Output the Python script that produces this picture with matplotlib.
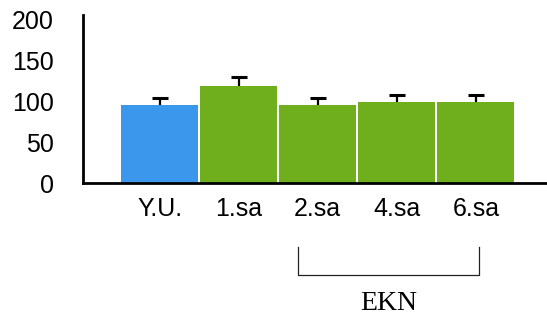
import matplotlib
matplotlib.use("Agg")
import matplotlib.pyplot as plt
import matplotlib.transforms as mtransforms
import numpy as np

# data
groups = ["Y.U.", "1.sa", "2.sa", "4.sa", "6.sa"]
means = [95, 118, 95, 99, 99]
errs = [9, 11, 9, 8, 8]
colors = ["#3a97ec", "#6faf1e", "#6faf1e", "#6faf1e", "#6faf1e"]
yticks = [0, 50, 100, 150, 200]
bracket_label = "EKN"
bracket_span = (2, 4)   # from 2.sa to 6.sa

fig = plt.figure(figsize=(5.47, 3.20), dpi=100)
ax = fig.add_axes([0.1517, 0.428, 0.8483, 0.525])

x = np.arange(len(groups))
# error bars sit behind the bars so only the upper half shows
ax.errorbar(x, means, yerr=errs, fmt="none",
            ecolor="black", elinewidth=1.6, capsize=6, capthick=2.2, zorder=1)
ax.bar(x, means, width=0.975, color=colors, zorder=2)

ax.set_xlim(-0.97, 4.9)
ax.set_ylim(0, 205)
ax.set_yticks(yticks)
ax.set_xticks(x)
ax.set_xticklabels(groups)

for s in ["top", "right"]:
    ax.spines[s].set_visible(False)
for s in ["left", "bottom"]:
    ax.spines[s].set_linewidth(2)
    ax.spines[s].set_color("black")
    ax.spines[s].set_zorder(3)

ax.tick_params(axis="both", length=0, labelsize=18)
ax.tick_params(axis="x", pad=10)
ax.tick_params(axis="y", pad=21)
for lab in ax.get_xticklabels() + ax.get_yticklabels():
    lab.set_family("Liberation Sans")

# bracket under the EKN groups
trans = mtransforms.blended_transform_factory(ax.transData, ax.transAxes)
x0 = bracket_span[0] - 0.25
x1 = bracket_span[1] + 0.04
ax.plot([x0, x0, x1, x1], [-0.38, -0.548, -0.548, -0.38], color="#222222",
        lw=0.9, transform=trans, clip_on=False)
ax.text((x0 + x1) / 2, -0.72, bracket_label, transform=trans, ha="center",
        va="center", fontsize=20, family="Liberation Serif")

fig.savefig("out.png", dpi=100)
